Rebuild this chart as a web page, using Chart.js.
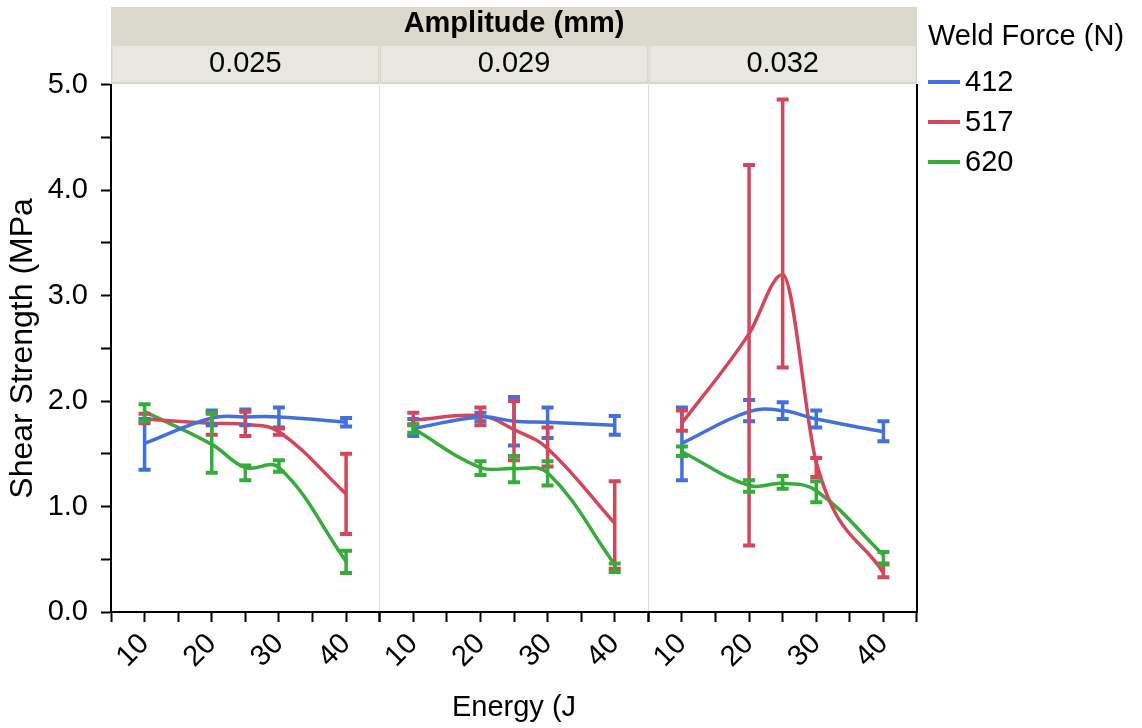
<!DOCTYPE html>
<html>
<head>
<meta charset="utf-8">
<script src="https://cdn.jsdelivr.net/npm/chart.js@4"></script>
<style>
  body { margin: 0; background: #fff; }
</style>
</head>
<body>
<canvas id="shearChart" width="1142" height="728"></canvas>
<script>
// energy levels on each panel's x axis
var energy = [10, 20, 25, 30, 40];
var amplitudes = ['0.025', '0.029', '0.032'];
var forces = ['412', '517', '620'];
var colors = ['#4270DD', '#D5465A', '#36AC3A'];

// smoothed fit, one row per amplitude panel
var fit412 = [[1.60, 1.84, 1.85, 1.85, 1.80], [1.74, 1.85, 1.81, 1.80, 1.77], [1.60, 1.90, 1.91, 1.83, 1.71]];
var fit517 = [[1.83, 1.79, 1.78, 1.71, 1.12], [1.82, 1.86, 1.73, 1.55, 0.84], [1.79, 2.64, 3.20, 1.42, 0.37]];
var fit620 = [[1.90, 1.59, 1.37, 1.37, 0.48], [1.74, 1.37, 1.36, 1.32, 0.45], [1.52, 1.20, 1.22, 1.15, 0.54]];

// error bar ends
var lo412 = [[1.35, 1.77, 1.77, 1.75, 1.76], [1.67, 1.81, 1.58, 1.65, 1.68], [1.25, 1.81, 1.83, 1.75, 1.62]];
var hi412 = [[1.83, 1.91, 1.92, 1.94, 1.84], [1.83, 1.89, 2.04, 1.94, 1.86], [1.94, 2.01, 1.99, 1.91, 1.81]];
var lo517 = [[1.79, 1.68, 1.67, 1.68, 0.74], [1.78, 1.77, 1.44, 1.38, 0.41], [1.72, 0.63, 2.32, 1.28, 0.33]];
var hi517 = [[1.88, 1.88, 1.90, 1.74, 1.50], [1.89, 1.94, 2.00, 1.75, 1.24], [1.91, 4.24, 4.86, 1.46, 0.46]];
var lo620 = [[1.81, 1.32, 1.25, 1.33, 0.37], [1.70, 1.30, 1.23, 1.20, 0.38], [1.48, 1.14, 1.17, 1.04, 0.45]];
var hi620 = [[1.97, 1.89, 1.39, 1.44, 0.58], [1.77, 1.43, 1.48, 1.43, 0.46], [1.57, 1.25, 1.29, 1.24, 0.57]];

var fits = [fit412, fit517, fit620];
var los = [lo412, lo517, lo620];
var his = [hi412, hi517, hi620];

var FONT = "'Liberation Sans', Arial, sans-serif";

var datasets = [];
for (var p = 0; p < amplitudes.length; p++) {
    for (var s = 0; s < forces.length; s++) {
        datasets.push({
            label: forces[s],
            data: energy.map(function (e, i) { return { x: e, y: fits[s][p][i] }; }),
            xAxisID: 'x' + p,
            yAxisID: 'y',
            borderColor: colors[s],
            backgroundColor: colors[s],
            borderWidth: 3.5,
            pointRadius: 0,
            tension: 0.4,
            // the big 517 N hump at 0.032 mm looks better without overshoot
            cubicInterpolationMode: (p === 2 && s === 1) ? 'monotone' : 'default',
            errLo: los[s][p],
            errHi: his[s][p]
        });
    }
}

// error bars with caps, drawn through the scales
var errorBars = {
    id: 'errorBars',
    afterDatasetsDraw: function (chart) {
        var ctx = chart.ctx;
        var yScale = chart.scales.y;
        chart.data.datasets.forEach(function (ds) {
            var xScale = chart.scales[ds.xAxisID];
            ctx.save();
            ctx.strokeStyle = ds.borderColor;
            energy.forEach(function (e, i) {
                var x = xScale.getPixelForValue(e);
                var y1 = yScale.getPixelForValue(ds.errLo[i]);
                var y2 = yScale.getPixelForValue(ds.errHi[i]);
                ctx.lineWidth = 3.5;
                ctx.beginPath();
                ctx.moveTo(x, y1);
                ctx.lineTo(x, y2);
                ctx.stroke();
                ctx.lineWidth = 4;
                ctx.beginPath();
                ctx.moveTo(x - 6, y1);
                ctx.lineTo(x + 6, y1);
                ctx.moveTo(x - 6, y2);
                ctx.lineTo(x + 6, y2);
                ctx.stroke();
            });
            ctx.restore();
        });
    }
};

// facet header strips
var facetHeader = {
    id: 'facetHeader',
    beforeDraw: function (chart) {
        var ctx = chart.ctx;
        var area = chart.chartArea;
        ctx.save();
        ctx.fillStyle = '#DBD9CC';
        ctx.fillRect(area.left, 7, area.right - area.left, 38);
        for (var p = 0; p < amplitudes.length; p++) {
            var sc = chart.scales['x' + p];
            ctx.fillStyle = '#D8D7CE';
            ctx.fillRect(sc.left, 45, sc.width, 39);
            ctx.fillStyle = '#E8E8E0';
            ctx.fillRect(sc.left + 1.5, 46, sc.width - 3, 36);
            ctx.fillStyle = '#000';
            ctx.font = '29px ' + FONT;
            ctx.textAlign = 'center';
            ctx.textBaseline = 'middle';
            ctx.fillText(amplitudes[p], (sc.left + sc.right) / 2, 64);
        }
        ctx.restore();
    }
};

// legend on the right with its title
var forceLegend = {
    id: 'forceLegend',
    afterDraw: function (chart) {
        var ctx = chart.ctx;
        ctx.save();
        ctx.fillStyle = '#000';
        ctx.font = '29px ' + FONT;
        ctx.textAlign = 'left';
        ctx.textBaseline = 'middle';
        ctx.fillText('Weld Force (N)', 928, 37);
        for (var s = 0; s < forces.length; s++) {
            var y = 82 + s * 40;
            ctx.strokeStyle = colors[s];
            ctx.lineWidth = 4;
            ctx.beginPath();
            ctx.moveTo(928, y);
            ctx.lineTo(960, y);
            ctx.stroke();
            ctx.fillText(forces[s], 965, y + 1);
        }
        ctx.restore();
    }
};

function xAxis(p) {
    return {
        type: 'linear',
        position: 'bottom',
        stack: 'energy',
        stackWeight: 1,
        min: 5,
        max: 45,
        afterFit: function (scale) { scale.height = 116; },
        border: { color: '#000', width: 2 },
        grid: {
            drawOnChartArea: true,
            color: function (c) { return c.tick && c.tick.value === 45 ? '#DCDCDC' : 'rgba(0,0,0,0)'; },
            lineWidth: 1,
            tickLength: 10,
            tickWidth: 2,
            tickColor: '#000'
        },
        ticks: {
            stepSize: 5,
            autoSkip: false,
            minRotation: 45,
            maxRotation: 45,
            padding: 5,
            color: '#000',
            font: { size: 29, family: FONT },
            callback: function (v) { return (v >= 10 && v <= 40 && v % 10 === 0) ? String(v) : ''; }
        },
        title: {
            display: p === 1,
            text: 'Energy (J',
            color: '#000',
            font: { size: 29, family: FONT },
            padding: { top: 0, bottom: 3 }
        }
    };
}

var ctx = document.getElementById('shearChart').getContext('2d');
var shearChart = new Chart(ctx, {
    type: 'line',
    data: { datasets: datasets },
    plugins: [facetHeader, errorBars, forceLegend],
    options: {
        responsive: false,
        animation: false,
        devicePixelRatio: 1,
        layout: { padding: { left: 0, top: 0, right: 216, bottom: 0 } },
        scales: {
            x0: xAxis(0),
            x1: xAxis(1),
            x2: xAxis(2),
            y: {
                type: 'linear',
                position: 'left',
                min: 0,
                max: 5,
                afterFit: function (scale) { scale.width = 111; },
                border: { color: '#000', width: 2 },
                grid: { drawOnChartArea: false, tickLength: 10, tickWidth: 2, tickColor: '#000' },
                ticks: {
                    stepSize: 0.5,
                    padding: 13,
                    color: '#000',
                    font: { size: 29, family: FONT },
                    callback: function (v) { return Math.abs(v % 1) < 1e-9 ? v.toFixed(1) : ''; }
                },
                title: {
                    display: true,
                    text: 'Shear Strength (MPa',
                    color: '#000',
                    font: { size: 32, family: FONT },
                    padding: { top: 4, bottom: 9 }
                }
            },
            yRight: {
                type: 'linear',
                position: 'right',
                min: 0,
                max: 5,
                afterFit: function (scale) { scale.width = 9; },
                border: { color: '#000', width: 2 },
                grid: { drawOnChartArea: false, tickLength: 9, tickColor: 'rgba(0,0,0,0)' },
                ticks: { display: false }
            }
        },
        plugins: {
            title: {
                display: true,
                fullSize: false,
                text: 'Amplitude (mm)',
                color: '#000',
                font: { size: 29, weight: 'bold', family: FONT },
                padding: { top: 7, bottom: 43 }
            },
            legend: { display: false },
            tooltip: { enabled: false }
        }
    }
});
</script>
</body>
</html>
